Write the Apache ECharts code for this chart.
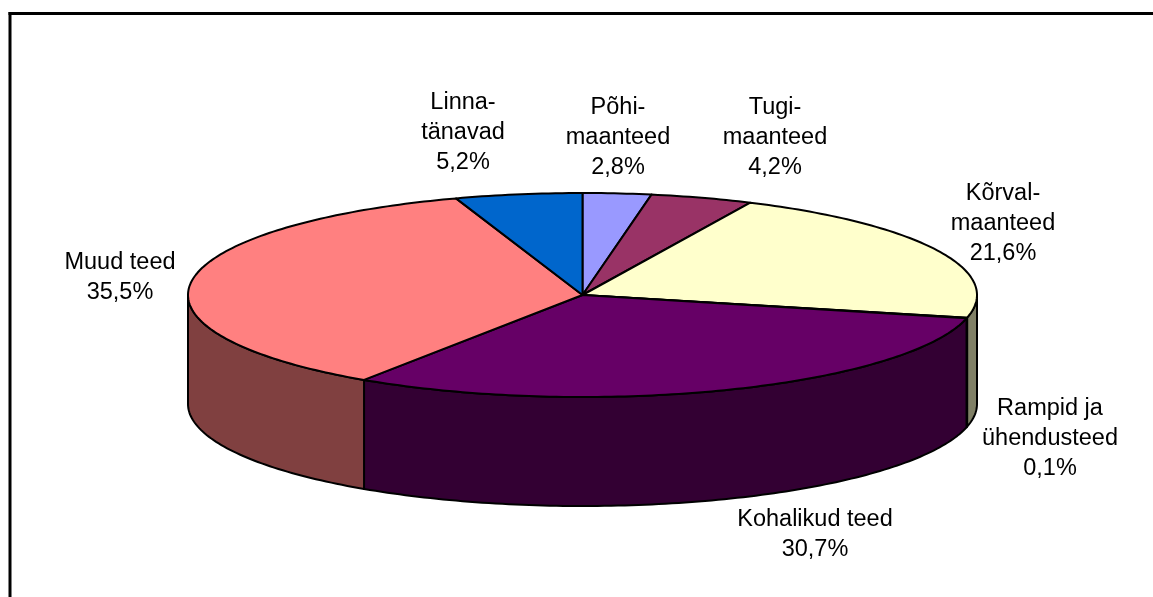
<!DOCTYPE html>
<html lang="et">
<head>
    <meta charset="utf-8">
    <title>Teede jaotus</title>
    <script src="https://cdn.jsdelivr.net/npm/echarts@6/dist/echarts.min.js"></script>
    <style>
        html, body { margin: 0; padding: 0; background: #fff; }
        #chart { width: 1153px; height: 597px; }
    </style>
</head>
<body>
<div id="chart"></div>
<script type="text/javascript">
    // andmed
    var categories = ['Põhi-\nmaanteed', 'Tugi-\nmaanteed', 'Kõrval-\nmaanteed', 'Rampid ja\nühendusteed',
        'Kohalikud teed', 'Muud teed', 'Linna-\ntänavad'];
    var shares = [2.8, 4.2, 21.6, 0.1, 30.7, 35.5, 5.2];

    // värvid (pealmine pind / külg)
    var topColors = ['#9999FF', '#993366', '#FFFFCC', '#CCFFFF', '#660066', '#FF8080', '#0066CC'];
    var sideColors = ['#4D4D80', '#4D1A33', '#808066', '#668080', '#330033', '#804040', '#003366'];

    // paigutus
    var cx = 582.5, cy = 295, rx = 394.5, ry = 102, depth = 109;
    var labelPos = [[618, 138], [775, 138], [1003, 224], [1050, 439], [815, 535], [120, 278], [463, 133]];

    var total = 0, cum = [];
    for (var i = 0; i < shares.length; i++) {
        cum.push(total);
        total += shares[i];
    }
    var pieData = shares.map(function (v, i) { return [v, cum[i]]; });

    function fmt(v) {
        return v.toFixed(1).replace('.', ',') + '%';
    }

    // ellipsi kaar, nurk kraadides päripäeva ülevalt
    function arc(a0, a1, dy) {
        var pts = [];
        var n = Math.max(2, Math.ceil(a1 - a0) + 1);
        for (var k = 0; k < n; k++) {
            var a = (a0 + (a1 - a0) * k / (n - 1)) * Math.PI / 180;
            pts.push([cx + rx * Math.sin(a), cy - ry * Math.cos(a) + dy]);
        }
        return pts;
    }

    function angles(api) {
        var start = api.value(1), val = api.value(0);
        return [start / total * 360, (start + val) / total * 360];
    }

    function renderSide(params, api) {
        var a = angles(api);
        var lo = Math.max(a[0], 90), hi = Math.min(a[1], 270);
        if (hi <= lo) {
            return;
        }
        var pts = arc(lo, hi, 0).concat(arc(lo, hi, depth).reverse());
        return {
            type: 'polygon',
            shape: { points: pts },
            style: { fill: sideColors[params.dataIndex], stroke: '#000', lineWidth: 2, lineJoin: 'round' }
        };
    }

    function renderTop(params, api) {
        var i = params.dataIndex;
        var a = angles(api);
        var pts = [[cx, cy]].concat(arc(a[0], a[1], 0));
        return {
            type: 'group',
            children: [{
                type: 'polygon',
                shape: { points: pts },
                style: { fill: topColors[i], stroke: '#000', lineWidth: 2, lineJoin: 'round' }
            }, {
                type: 'text',
                x: labelPos[i][0],
                y: labelPos[i][1],
                z2: 20,
                style: {
                    text: categories[i] + '\n' + fmt(shares[i]),
                    fill: '#000',
                    fontFamily: '"Liberation Sans", Arial, sans-serif',
                    fontSize: 23.5,
                    lineHeight: 30,
                    align: 'center',
                    verticalAlign: 'middle'
                }
            }]
        };
    }

    var myChart = echarts.init(document.getElementById('chart'));
    var option = {
        backgroundColor: '#fff',
        animation: false,
        graphic: [
            { type: 'line', shape: { x1: 8.5, y1: 13.5, x2: 1153, y2: 13.5 }, style: { stroke: '#000', lineWidth: 3 } },
            { type: 'line', shape: { x1: 10, y1: 12, x2: 10, y2: 597 }, style: { stroke: '#000', lineWidth: 3 } }
        ],
        series: [{
            type: 'custom',
            name: 'külg',
            coordinateSystem: 'none',
            z: 2,
            renderItem: renderSide,
            data: pieData
        }, {
            type: 'custom',
            name: 'pind',
            coordinateSystem: 'none',
            z: 3,
            renderItem: renderTop,
            data: pieData
        }]
    };
    myChart.setOption(option);
</script>
</body>
</html>
